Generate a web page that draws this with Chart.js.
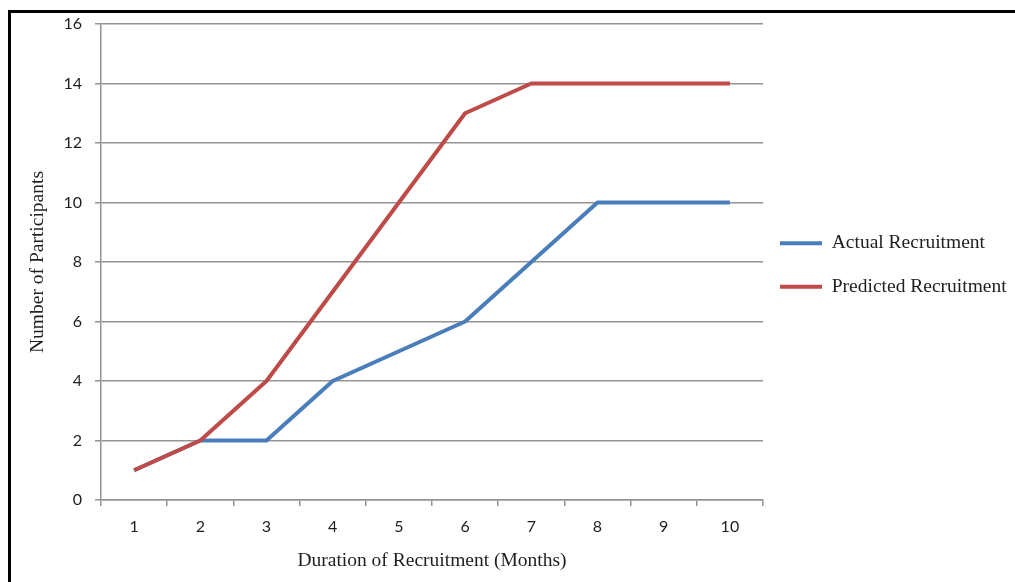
<!DOCTYPE html>
<html>
<head>
<meta charset="utf-8">
<script src="https://cdn.jsdelivr.net/npm/chart.js@4"></script>
<style>
  html, body { margin: 0; padding: 0; background: #fff; }
  #wrap { position: relative; width: 1015px; height: 582px; overflow: hidden; }
  #wrap canvas { position: absolute; left: 0; top: 0; }
  /* black frame, only left and top edges show in the picture */
  #frame { position: absolute; left: 8px; top: 10px; right: -10px; bottom: -10px;
           border-left: 3px solid #000; border-top: 3px solid #000; pointer-events: none; }
</style>
</head>
<body>
<div id="wrap">
  <canvas id="linechart" width="1015" height="582"></canvas>
  <div id="frame"></div>
</div>
<script>
// data
const months = ["1", "2", "3", "4", "5", "6", "7", "8", "9", "10"];
const actualRecruitment = [1, 2, 2, 4, 5, 6, 8, 10, 10, 10];
const predictedRecruitment = [1, 2, 4, 7, 10, 13, 14, 14, 14, 14];
const yTicks = { min: 0, max: 16, step: 2 };

const gridColor = "#939393";
const textColor = "#1e1e1e";
const tickFont = { family: "Lato", size: 16 };
const serifFont = { family: "Liberation Serif", size: 19.5 };

// put the legend box where the original has it (right of the plot, a bit above centre)
const legendShift = {
  id: "legendShift",
  afterLayout(chart) {
    const lg = chart.legend;
    lg.left = 756;
    lg.right = 1015;
    lg.width = 259;
    lg.top = 24;
    lg.bottom = 506;
    lg.height = 482;
  },
};

const defaultLabels = Chart.defaults.plugins.legend.labels.generateLabels;

const config = {
  type: "line",
  data: {
    labels: months,
    datasets: [
      {
        label: "Actual Recruitment",
        data: actualRecruitment,
        borderColor: "#4a7ebb",
        backgroundColor: "#4a7ebb",
        borderWidth: 4,
        pointRadius: 0,
        tension: 0,
        borderJoinStyle: "round",
        order: 1,
      },
      {
        label: "Predicted Recruitment",
        data: predictedRecruitment,
        borderColor: "#be4b48",
        backgroundColor: "#be4b48",
        borderWidth: 4,
        pointRadius: 0,
        tension: 0,
        borderJoinStyle: "round",
        order: 0,
      },
    ],
  },
  options: {
    responsive: false,
    animation: false,
    layout: { padding: { left: 0, top: 24, right: 52, bottom: 0 } },
    plugins: {
      tooltip: { enabled: false },
      legend: {
        position: "right",
        maxWidth: 200,
        labels: {
          boxWidth: 42,
          boxHeight: 4,
          padding: 24,
          color: textColor,
          font: serifFont,
          generateLabels(chart) {
            return defaultLabels(chart)
              .map((item) => ({ ...item, lineWidth: 0, fillStyle: item.strokeStyle }))
              .sort((a, b) => a.datasetIndex - b.datasetIndex);
          },
        },
      },
    },
    scales: {
      x: {
        type: "category",
        offset: true,
        grid: {
          offset: true,
          drawOnChartArea: false,
          drawTicks: true,
          tickLength: 6,
          color: gridColor,
          lineWidth: 1.5,
        },
        border: { color: gridColor, width: 1.5 },
        ticks: { padding: 11, color: textColor, font: tickFont, maxRotation: 0 },
        title: {
          display: true,
          text: "Duration of Recruitment (Months)",
          color: textColor,
          font: serifFont,
          padding: { top: 0, bottom: 9 },
        },
        afterFit(scale) {
          scale.height = 82;
        },
      },
      y: {
        min: yTicks.min,
        max: yTicks.max,
        grid: { color: gridColor, tickLength: 6, lineWidth: 1.5 },
        border: { color: gridColor, width: 1.5 },
        ticks: { stepSize: yTicks.step, padding: 13, color: textColor, font: tickFont },
        title: {
          display: true,
          text: "Number of Participants",
          color: textColor,
          font: serifFont,
          padding: { top: 26, bottom: 0 },
        },
        afterFit(scale) {
          scale.width = 101;
        },
      },
    },
  },
  plugins: [legendShift],
};

let myChart = new Chart(document.getElementById("linechart"), config);
</script>
</body>
</html>
